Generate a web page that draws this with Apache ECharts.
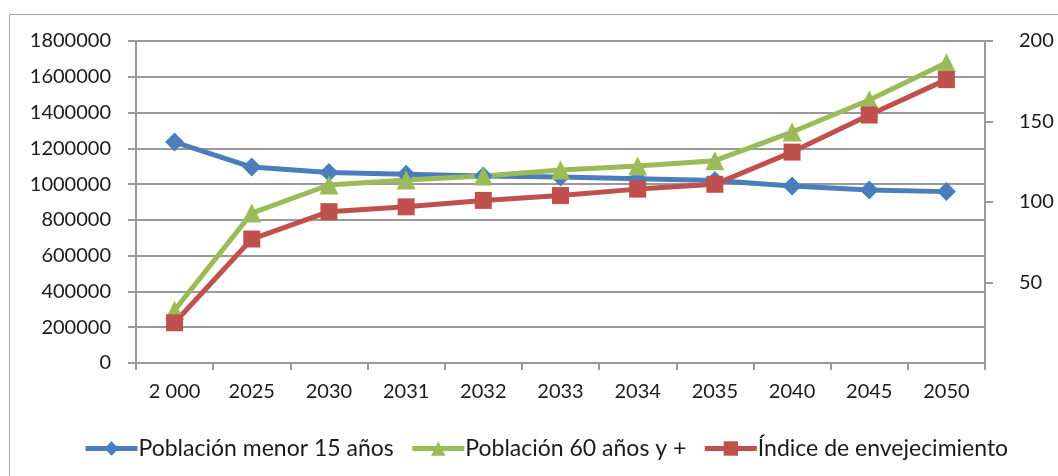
<!DOCTYPE html>
<html>
<head>
    <meta charset="utf-8">
    <title>Envejecimiento</title>
    <script src="https://cdn.jsdelivr.net/npm/echarts@6/dist/echarts.min.js"></script>
    <style>
        body { margin: 0; background: #fff; }
    </style>
</head>
<body>
    <div id="main" style="width:1058px;height:476px"></div>
    <script type="text/javascript">
        var years = ['2 000', '2025', '2030', '2031', '2032', '2033', '2034', '2035', '2040', '2045', '2050'];
        var menor15 = [1235000, 1095000, 1065000, 1055000, 1045000, 1040000, 1030000, 1020000, 990000, 967000, 958000];
        var mayor60 = [295000, 838000, 995000, 1023000, 1045000, 1079000, 1101000, 1131000, 1291000, 1470000, 1679000];
        var indice = [25, 77, 94, 97, 101, 104, 108, 111, 131, 154, 176];

        var font = 'Lato, "Open Sans", sans-serif';
        var gris = '#999999';

        var chart = echarts.init(document.getElementById('main'));
        chart.setOption({
            animation: false,
            textStyle: { fontFamily: font },
            graphic: [{
                type: 'rect',
                shape: { x: 9.5, y: 14.5, width: 1100, height: 500 },
                style: { fill: 'none', stroke: '#a6a6a6', lineWidth: 1 },
                silent: true
            }],
            grid: { left: 136, right: 73, top: 41, bottom: 113 },
            legend: {
                top: 432,
                left: 78,
                itemWidth: 52,
                itemHeight: 18,
                itemGap: 16,
                lineStyle: { width: 5 },
                textStyle: { fontSize: 23, color: '#1a1a1a', fontFamily: font, padding: [0, 0, 0, -4] },
                data: ['Población menor 15 años', 'Población 60 años y +', 'Índice de envejecimiento']
            },
            xAxis: {
                type: 'category',
                data: years,
                boundaryGap: true,
                axisLine: { lineStyle: { color: gris, width: 2 } },
                axisTick: { show: true, length: 7, lineStyle: { color: gris, width: 2 } },
                axisLabel: { color: '#1a1a1a', fontSize: 20, margin: 19 }
            },
            yAxis: [{
                type: 'value',
                min: 0,
                max: 1800000,
                interval: 200000,
                axisLine: { show: true, lineStyle: { color: gris, width: 2 } },
                axisTick: { show: true, length: 8, lineStyle: { color: gris, width: 2 } },
                splitLine: { lineStyle: { color: gris, width: 2 } },
                axisLabel: {
                    color: '#1a1a1a', fontSize: 20, margin: 25,
                    formatter: function (v) { return String(v); }
                }
            }, {
                type: 'value',
                position: 'right',
                min: 0,
                max: 200,
                interval: 50,
                axisLine: { show: true, lineStyle: { color: gris, width: 2 } },
                axisTick: { show: true, length: 8, lineStyle: { color: gris, width: 2 } },
                splitLine: { show: false },
                axisLabel: { color: '#1a1a1a', fontSize: 20, margin: 34, showMinLabel: false }
            }],
            series: [{
                name: 'Población menor 15 años',
                type: 'line',
                data: menor15,
                symbol: 'diamond',
                symbolSize: 19,
                color: '#4a7ebb',
                lineStyle: { width: 5 }
            }, {
                name: 'Población 60 años y +',
                type: 'line',
                data: mayor60,
                symbol: 'triangle',
                symbolSize: 19,
                color: '#9bbb59',
                lineStyle: { width: 5 }
            }, {
                name: 'Índice de envejecimiento',
                type: 'line',
                yAxisIndex: 1,
                data: indice,
                symbol: 'rect',
                symbolSize: 17,
                color: '#c0504d',
                lineStyle: { width: 5 }
            }]
        });
    </script>
</body>
</html>
